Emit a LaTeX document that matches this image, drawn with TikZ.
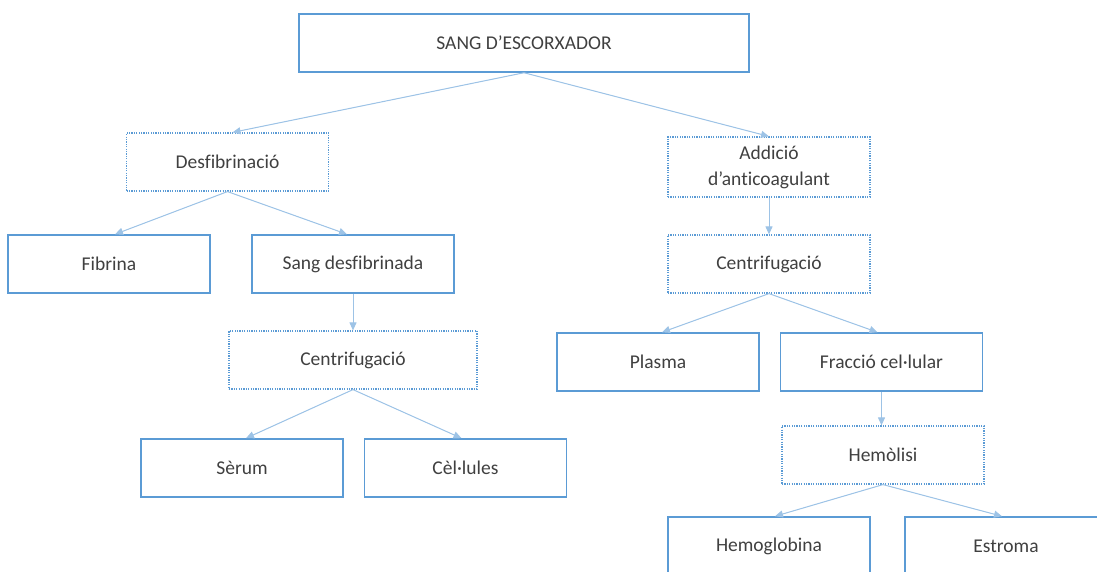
\documentclass[tikz,border=0pt]{standalone}
\usepackage{fontspec}
\setmainfont[Ligatures=NoCommon]{Carlito}
\usetikzlibrary{arrows.meta}
\definecolor{boxborder}{HTML}{5B9BD5}
\definecolor{linkcolor}{HTML}{9DC3E6}
\definecolor{textgray}{HTML}{404040}

\begin{document}
\begin{tikzpicture}[
    x=1pt, y=-1pt,
    >={Triangle[length=8pt,width=7pt]},
    font=\fontsize{19.5}{26}\selectfont,
    solidbox/.style={draw=boxborder, fill=white, line width=1.5pt, text=textgray, minimum width=202pt, minimum height=58pt, align=center, inner sep=0pt},
    dotbox/.style={solidbox, line width=1.2pt, dash pattern=on 1.2pt off 1.2pt},
    link/.style={->, draw=linkcolor, fill=linkcolor, line width=1pt}
]
    \useasboundingbox (0,0) rectangle (1097,572);
    \clip (0,0) rectangle (1097,572);

    % Top box
    \node[solidbox, minimum width=450pt] (sang) at (524,43) {SANG D’ESCORXADOR};

    % Left branch
    \node[dotbox] (desfib) at (227.5,162) {Desfibrinació};
    \node[solidbox] (fibrina) at (109,264) {Fibrina};
    \node[solidbox] (sangdesf) at (353,264) {Sang desfibrinada};
    \node[dotbox, minimum width=248pt] (centrifL) at (353,360) {Centrifugació};
    \node[solidbox] (serum) at (242,468) {Sèrum};
    \node[solidbox] (cellules) at (465.5,468) {Cèl·lules};

    % Right branch
    \node[dotbox, minimum height=60pt] (addicio) at (769,167) {Addició\\d’anticoagulant};
    \node[dotbox] (centrifR) at (769,264) {Centrifugació};
    \node[solidbox] (plasma) at (658,362) {Plasma};
    \node[solidbox] (fraccio) at (881.5,362) {Fracció cel·lular};
    \node[dotbox] (hemolisi) at (883,455) {Hemòlisi};
    \node[solidbox] (hemoglobina) at (769,546) {Hemoglobina};
    \node[solidbox] (estroma) at (1006,546) {Estroma};

    % Connectors - left
    \draw[link] (sang.south) -- ([xshift=5pt]desfib.north);
    \draw[link] (desfib.south) -- ([xshift=6pt]fibrina.north);
    \draw[link] (desfib.south) -- ([xshift=-6pt]sangdesf.north);
    \draw[link] (sangdesf.south) -- (centrifL.north);
    \draw[link] (centrifL.south) -- ([xshift=4pt]serum.north);
    \draw[link] (centrifL.south) -- ([xshift=-4pt]cellules.north);

    % Connectors - right
    \draw[link] (sang.south) -- (addicio.north);
    \draw[link] (addicio.south) -- (centrifR.north);
    \draw[link] (centrifR.south) -- ([xshift=4pt]plasma.north);
    \draw[link] (centrifR.south) -- ([xshift=-4pt]fraccio.north);
    \draw[link] (fraccio.south) -- (fraccio.south |- hemolisi.north);
    \draw[link] (hemolisi.south) -- ([xshift=6pt]hemoglobina.north);
    \draw[link] (hemolisi.south) -- ([xshift=-4pt]estroma.north);

\end{tikzpicture}
\end{document}
